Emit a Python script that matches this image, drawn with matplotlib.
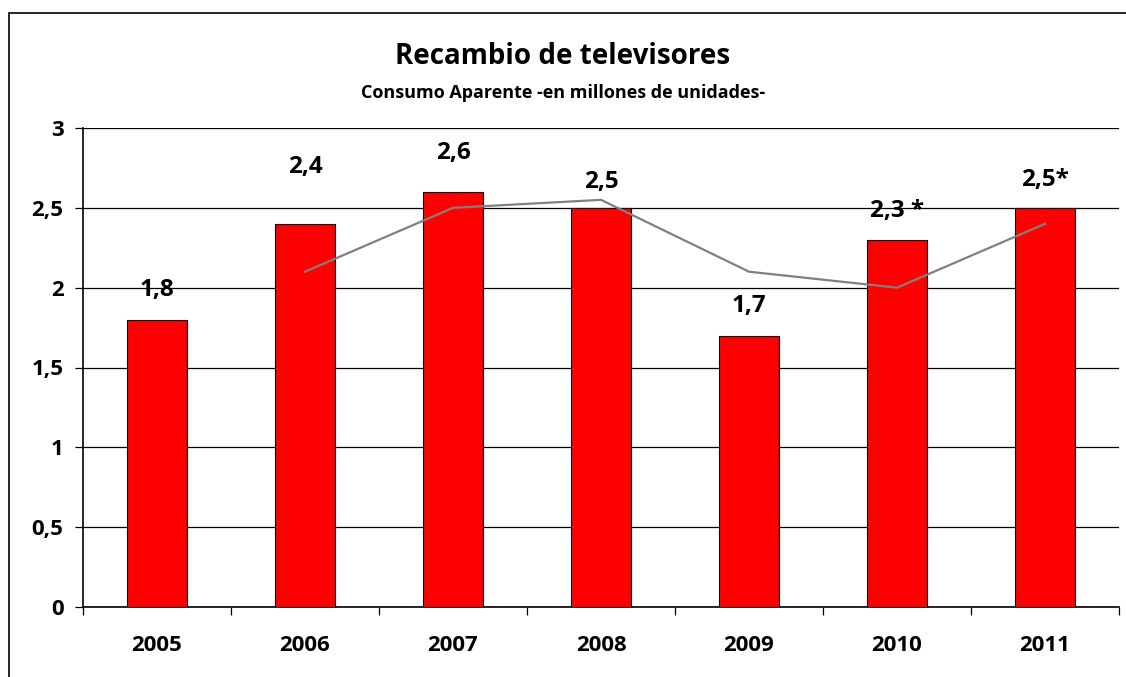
import matplotlib
matplotlib.use("Agg")
from matplotlib import pyplot as plt
from matplotlib.patches import Rectangle
import numpy as np

# data
years = ["2005", "2006", "2007", "2008", "2009", "2010", "2011"]
consumo = [1.8, 2.4, 2.6, 2.5, 1.7, 2.3, 2.5]
tendencia = [np.nan, 2.1, 2.5, 2.55, 2.1, 2.0, 2.4]
etiquetas = ["1,8", "2,4", "2,6", "2,5", "1,7", "2,3 *", "2,5*"]
y_ticks = [0, 0.5, 1, 1.5, 2, 2.5, 3]
y_ticklabels = ["0", "0,5", "1", "1,5", "2", "2,5", "3"]

# label offsets above bar top (pixels), Excel had some moved by hand
label_offsets = [30, 57, 39, 26, 30, 29, 28]

plt.rcParams['font.family'] = ['Open Sans', 'DejaVu Sans']

fig = plt.figure(figsize=(11.26, 6.77), dpi=100)
ax = fig.add_axes([83 / 1126, 70 / 677, (1119 - 83) / 1126, (607 - 128) / 677])

# outer chart frame (left and top edges visible)
fig.patches.append(Rectangle((9 / 1126, -0.1), 1.2, 1.1 - 13 / 677,
                             transform=fig.transFigure, fill=False,
                             edgecolor="black", linewidth=1.2))

x = np.arange(len(years))
ax.bar(x, consumo, width=0.405, color="#ff0000", edgecolor="black",
       linewidth=0.8, zorder=3)
ax.plot(x, tendencia, color="#808080", linewidth=1.6, zorder=4)

for i, (v, t) in enumerate(zip(consumo, etiquetas)):
    ax.annotate(t, (x[i], v), xytext=(0, label_offsets[i]),
                textcoords="offset pixels", ha="center", va="center",
                fontsize=17.5, fontweight="bold", zorder=5)

ax.set_xlim(-0.5, len(years) - 0.5)
ax.set_ylim(0, 3)
ax.set_yticks(y_ticks)
ax.set_yticklabels(y_ticklabels)
ax.yaxis.grid(True, color="black", linewidth=0.9, zorder=0)
ax.set_axisbelow(True)

ax.set_xticks(np.arange(len(years) + 1) - 0.5)
ax.set_xticklabels([])
ax.set_xticks(x, minor=True)
ax.set_xticklabels(years, minor=True)
ax.tick_params(axis="x", which="major", length=6, width=0.9, direction="out")
ax.tick_params(axis="x", which="minor", length=0, pad=20, labelsize=16)
ax.tick_params(axis="y", length=6, width=0.9, direction="out", pad=8, labelsize=16)
for lab in ax.get_xticklabels(minor=True) + ax.get_yticklabels():
    lab.set_fontweight("bold")

ax.spines["top"].set_visible(False)
ax.spines["right"].set_visible(False)
ax.spines["left"].set_linewidth(1.2)
ax.spines["bottom"].set_linewidth(1.2)

fig.text(0.5, 1 - 56 / 677, "Recambio de televisores", ha="center", va="center",
         fontsize=20, fontweight="bold")
fig.text(0.5, 1 - 93 / 677, "Consumo Aparente -en millones de unidades-",
         ha="center", va="center", fontsize=13, fontweight="bold")

fig.savefig("out.png", dpi=100)
